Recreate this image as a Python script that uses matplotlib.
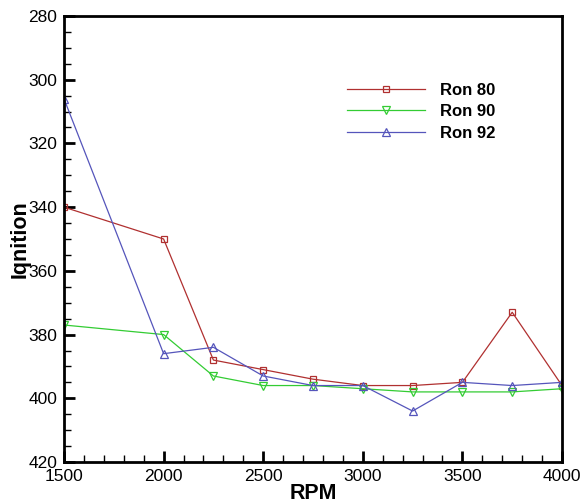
import matplotlib
matplotlib.use("Agg")
import matplotlib.pyplot as plt
from matplotlib.ticker import MultipleLocator

plt.rcParams['font.family'] = ['Liberation Sans', 'DejaVu Sans']

rpm = [1500, 2000, 2250, 2500, 2750, 3000, 3250, 3500, 3750, 4000]
ron80 = [340, 350, 388, 391, 394, 396, 396, 395, 373, 396]
ron90 = [377, 380, 393, 396, 396, 397, 398, 398, 398, 397]
ron92 = [306, 386, 384, 393, 396, 396, 404, 395, 396, 395]
labels = ["Ron 80", "Ron 90", "Ron 92"]

fig = plt.figure(figsize=(5.82, 5.04), dpi=100)
ax = fig.add_axes([64/582, 42/504, 498/582, 446/504])

ax.plot(rpm, ron80, color='#b03030', lw=0.9, marker='s', ms=5, mfc='none', mec='#b03030', mew=0.9, label=labels[0])
ax.plot(rpm, ron90, color='#33cc33', lw=0.9, marker='v', ms=5.5, mfc='none', mec='#33cc33', mew=0.9, label=labels[1])
ax.plot(rpm, ron92, color='#5555bb', lw=0.9, marker='^', ms=5.5, mfc='none', mec='#5555bb', mew=0.9, label=labels[2])

ax.set_xlim(1500, 4000)
ax.set_ylim(420, 280)
ax.xaxis.set_major_locator(MultipleLocator(500))
ax.xaxis.set_minor_locator(MultipleLocator(100))
ax.yaxis.set_major_locator(MultipleLocator(20))
ax.yaxis.set_minor_locator(MultipleLocator(5))
ax.tick_params(which='major', direction='in', length=8, width=2, labelsize=12.5, pad=5)
ax.tick_params(which='minor', direction='in', length=5, width=1)
ax.tick_params(top=False, right=False, which='both')
for s in ax.spines.values():
    s.set_linewidth(2)

ax.set_xlabel("RPM", fontsize=15.5, fontweight='bold', labelpad=-1)
ax.set_ylabel("Iqnition", fontsize=15.5, fontweight='bold', labelpad=-2)

leg = ax.legend(loc='upper left', bbox_to_anchor=(332/582, 1 - 68/504), bbox_transform=fig.transFigure,
                frameon=False, prop={'weight': 'bold', 'size': 12},
                handlelength=4.7, handletextpad=0.9, labelspacing=0.38, numpoints=1)

fig.savefig("out.png", dpi=100)
